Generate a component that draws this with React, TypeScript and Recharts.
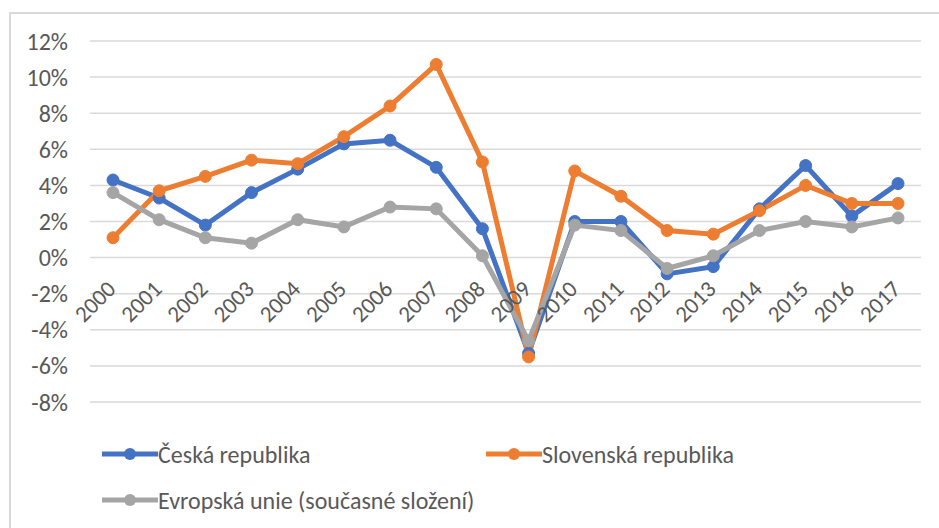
import React from "react";
import { ComposedChart, Line, XAxis, YAxis, CartesianGrid, LabelList } from "recharts";

const years = [
  "2000", "2001", "2002", "2003", "2004", "2005", "2006", "2007", "2008",
  "2009", "2010", "2011", "2012", "2013", "2014", "2015", "2016", "2017",
];
const cesko = [4.3, 3.3, 1.8, 3.6, 4.9, 6.3, 6.5, 5.0, 1.6, -5.3, 2.0, 2.0, -0.9, -0.5, 2.7, 5.1, 2.3, 4.1];
const slovensko = [1.1, 3.7, 4.5, 5.4, 5.2, 6.7, 8.4, 10.7, 5.3, -5.5, 4.8, 3.4, 1.5, 1.3, 2.6, 4.0, 3.0, 3.0];
const eu = [3.6, 2.1, 1.1, 0.8, 2.1, 1.7, 2.8, 2.7, 0.1, -4.6, 1.8, 1.5, -0.6, 0.1, 1.5, 2.0, 1.7, 2.2];
const yTicks = [-8, -6, -4, -2, 0, 2, 4, 6, 8, 10, 12];

const series = [
  { key: "cz", name: "Česká republika", color: "#4472C4" },
  { key: "sk", name: "Slovenská republika", color: "#ED7D31" },
  { key: "eu", name: "Evropská unie (současné složení)", color: "#A5A5A5" },
];

const data = years.map((year, i) => ({
  year,
  cz: cesko[i],
  sk: slovensko[i],
  eu: eu[i],
}));

const FONT = "Carlito, Calibri, Lato, sans-serif";
const TEXT = "#595959";

// year labels sit just under the 0 % line, like Excel's crossing axis
const YearLabel = (props: any) => {
  const { x, y, value } = props;
  const ax = x + 4;
  const ay = y + 33;
  return (
    <text
      x={ax}
      y={ay}
      textAnchor="end"
      fill={TEXT}
      fontSize={23}
      fontFamily={FONT}
      transform={`rotate(-45, ${ax}, ${ay})`}
    >
      {value}
    </text>
  );
};

const ChartLegend = () => (
  <div
    style={{
      position: "absolute",
      left: 102,
      top: 441,
      display: "flex",
      flexWrap: "wrap",
      width: 780,
      rowGap: 20,
      fontFamily: FONT,
    }}
  >
    {series.map((s) => (
      <div key={s.key} style={{ display: "flex", alignItems: "center", width: 384, height: 26 }}>
        <svg width={56} height={14} style={{ flexShrink: 0 }}>
          <line x1={0} y1={7} x2={56} y2={7} stroke={s.color} strokeWidth={5} />
          <circle cx={28} cy={7} r={6} fill={s.color} />
        </svg>
        <span style={{ color: TEXT, fontSize: 24, whiteSpace: "nowrap" }}>{s.name}</span>
      </div>
    ))}
  </div>
);

export default function App() {
  return (
    <div style={{ position: "absolute", left: 0, top: 0, width: 939, height: 528, background: "#fff", overflow: "hidden" }}>
      <div
        style={{
          position: "absolute",
          left: 9,
          top: 12,
          width: 1200,
          height: 800,
          borderLeft: "2px solid #d9d9d9",
          borderTop: "2px solid #d9d9d9",
        }}
      />
      <ComposedChart
        width={939}
        height={528}
        data={data}
        margin={{ top: 41, right: 18, bottom: 126, left: 8 }}
        style={{ position: "absolute", left: 0, top: 0 }}
      >
        <CartesianGrid vertical={false} stroke="#d9d9d9" strokeWidth={1.5} />
        <XAxis dataKey="year" hide padding={{ left: 23, right: 23 }} />
        <YAxis
          width={82}
          domain={[-8, 12]}
          ticks={yTicks}
          interval={0}
          axisLine={false}
          tickLine={false}
          tickSize={0}
          tickMargin={22}
          tickFormatter={(v: number) => `${v}%`}
          tick={{ fill: TEXT, fontSize: 24, fontFamily: FONT }}
        />
        {series.map((s) => (
          <Line
            key={s.key}
            dataKey={s.key}
            name={s.name}
            stroke={s.color}
            strokeWidth={5}
            dot={{ r: 6, fill: s.color, stroke: s.color, strokeWidth: 1 }}
            activeDot={false}
            isAnimationActive={false}
          />
        ))}
        <Line
          dataKey={() => 0}
          stroke="none"
          dot={false}
          activeDot={false}
          legendType="none"
          isAnimationActive={false}
        >
          <LabelList dataKey="year" content={YearLabel} />
        </Line>
      </ComposedChart>
      <ChartLegend />
    </div>
  );
}
